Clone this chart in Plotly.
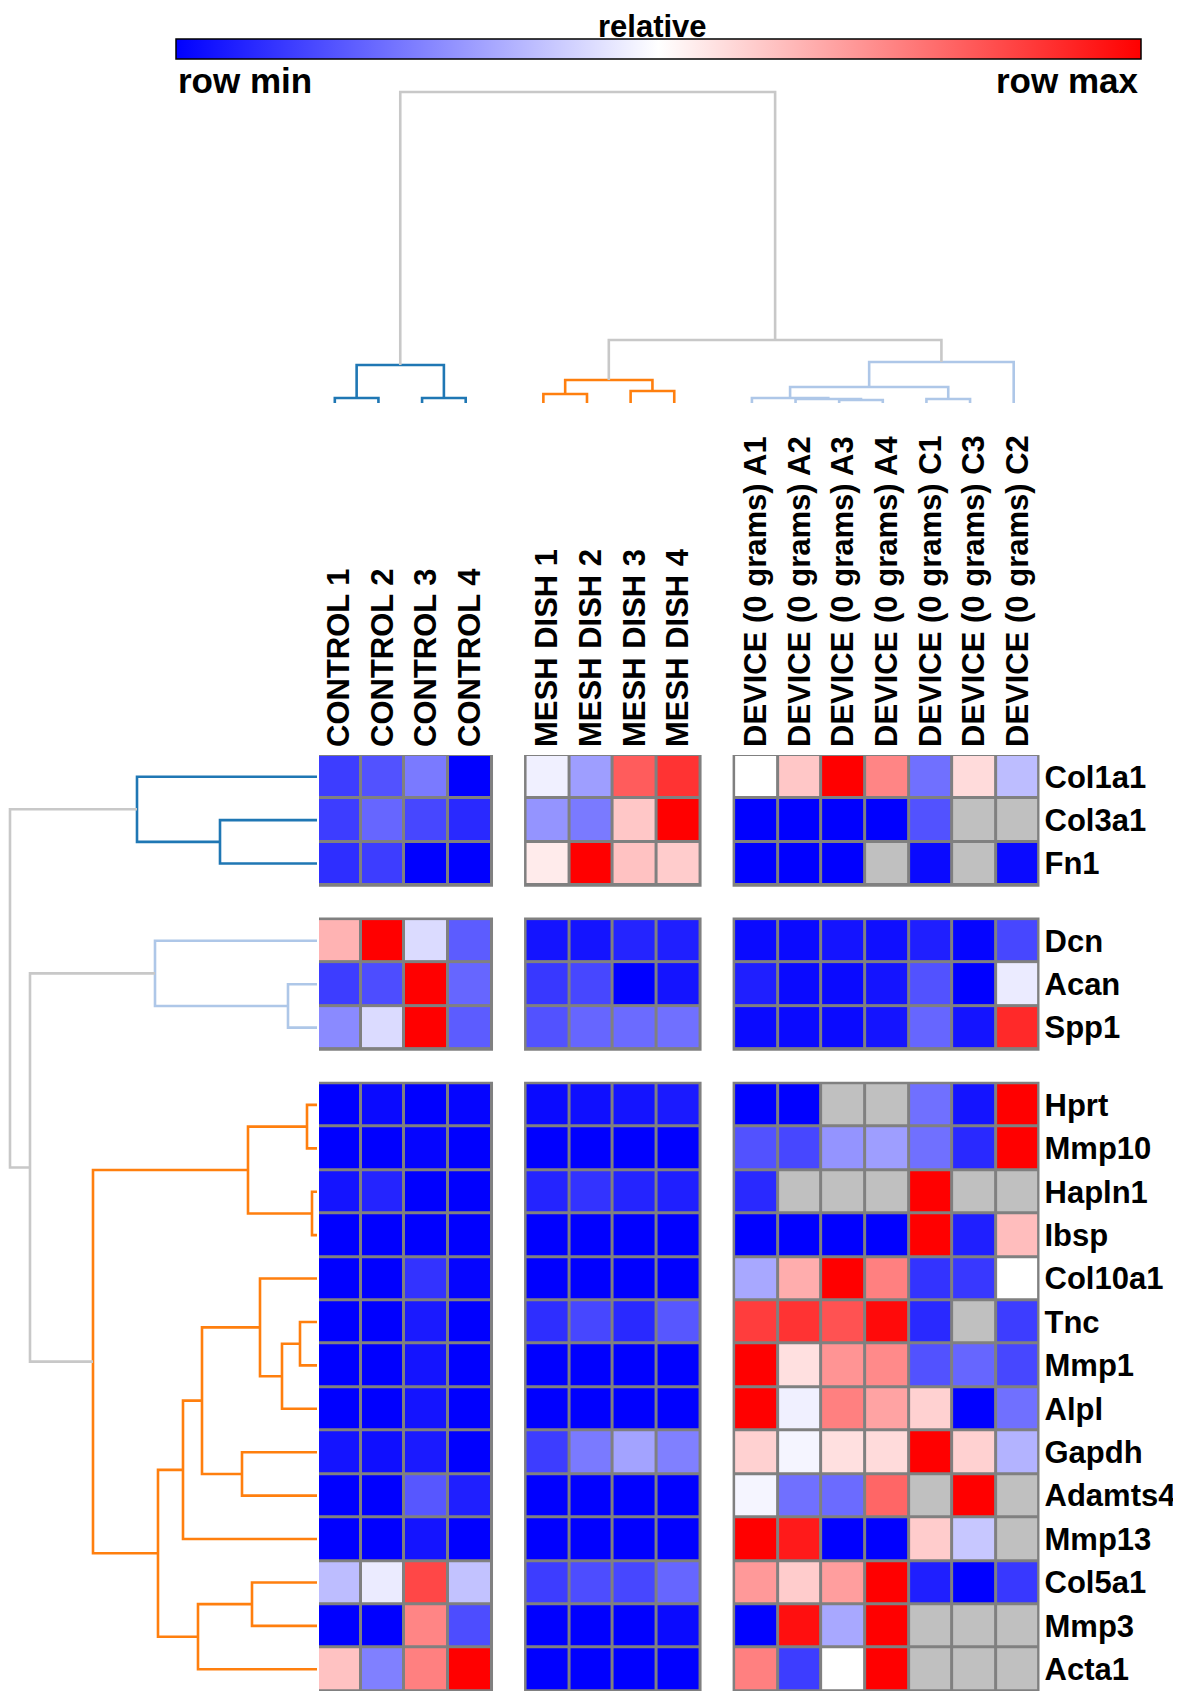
import plotly.graph_objects as go

# ---------------- data ----------------
genes = ["Col1a1", "Col3a1", "Fn1", "Dcn", "Acan", "Spp1", "Hprt", "Mmp10", "Hapln1", "Ibsp",
         "Col10a1", "Tnc", "Mmp1", "Alpl", "Gapdh", "Adamts4", "Mmp13", "Col5a1", "Mmp3", "Acta1"]
row_block_sizes = [3, 3, 14]

control_names = ["CONTROL 1", "CONTROL 2", "CONTROL 3", "CONTROL 4"]
mesh_names = ["MESH DISH 1", "MESH DISH 2", "MESH DISH 3", "MESH DISH 4"]
device_names = ["DEVICE (0 grams) A1", "DEVICE (0 grams) A2", "DEVICE (0 grams) A3",
                "DEVICE (0 grams) A4", "DEVICE (0 grams) C1", "DEVICE (0 grams) C3",
                "DEVICE (0 grams) C2"]

# relative expression: 0 = row min (blue), 0.5 = mid (white), 1 = row max (red); None = missing
control_vals = [
    [0.12, 0.16, 0.24, 0.00],
    [0.12, 0.20, 0.14, 0.08],
    [0.09, 0.12, 0.00, 0.00],
    [0.65, 1.00, 0.43, 0.18],
    [0.12, 0.15, 1.00, 0.20],
    [0.27, 0.43, 1.00, 0.18],
    [0.00, 0.02, 0.00, 0.01],
    [0.00, 0.00, 0.01, 0.00],
    [0.04, 0.07, 0.00, 0.00],
    [0.00, 0.00, 0.00, 0.00],
    [0.00, 0.00, 0.10, 0.01],
    [0.00, 0.00, 0.05, 0.00],
    [0.00, 0.00, 0.04, 0.00],
    [0.00, 0.00, 0.04, 0.00],
    [0.04, 0.03, 0.05, 0.00],
    [0.00, 0.00, 0.17, 0.06],
    [0.00, 0.00, 0.04, 0.00],
    [0.37, 0.46, 0.86, 0.38],
    [0.00, 0.00, 0.74, 0.15],
    [0.62, 0.25, 0.75, 1.00],
]
mesh_vals = [
    [0.47, 0.31, 0.82, 0.90],
    [0.29, 0.24, 0.61, 1.00],
    [0.54, 1.00, 0.62, 0.60],
    [0.04, 0.04, 0.07, 0.06],
    [0.11, 0.14, 0.00, 0.04],
    [0.16, 0.20, 0.21, 0.22],
    [0.02, 0.03, 0.04, 0.05],
    [0.00, 0.00, 0.00, 0.00],
    [0.07, 0.10, 0.07, 0.06],
    [0.00, 0.00, 0.00, 0.00],
    [0.00, 0.00, 0.00, 0.00],
    [0.09, 0.14, 0.08, 0.17],
    [0.00, 0.00, 0.00, 0.00],
    [0.00, 0.00, 0.00, 0.00],
    [0.12, 0.24, 0.32, 0.25],
    [0.00, 0.00, 0.00, 0.00],
    [0.00, 0.00, 0.00, 0.00],
    [0.12, 0.15, 0.14, 0.20],
    [0.00, 0.00, 0.00, 0.02],
    [0.00, 0.00, 0.00, 0.00],
]
device_vals = [
    [0.50, 0.61, 1.00, 0.74, 0.22, 0.57, 0.37],
    [0.00, 0.00, 0.00, 0.00, 0.16, None, None],
    [0.00, 0.00, 0.00, None, 0.02, None, 0.02],
    [0.02, 0.02, 0.04, 0.03, 0.06, 0.01, 0.14],
    [0.06, 0.02, 0.02, 0.04, 0.16, 0.00, 0.46],
    [0.02, 0.02, 0.02, 0.04, 0.20, 0.04, 0.92],
    [0.00, 0.00, None, None, 0.22, 0.04, 1.00],
    [0.16, 0.14, 0.29, 0.31, 0.22, 0.08, 1.00],
    [0.08, None, None, None, 1.00, None, None],
    [0.00, 0.00, 0.00, 0.00, 1.00, 0.06, 0.63],
    [0.33, 0.66, 1.00, 0.75, 0.10, 0.11, 0.50],
    [0.88, 0.90, 0.84, 0.98, 0.08, None, 0.12],
    [1.00, 0.56, 0.71, 0.73, 0.16, 0.20, 0.14],
    [1.00, 0.47, 0.75, 0.68, 0.59, 0.00, 0.22],
    [0.59, 0.48, 0.56, 0.57, 1.00, 0.59, 0.35],
    [0.48, 0.22, 0.21, 0.80, None, 1.00, None],
    [1.00, 0.95, 0.00, 0.00, 0.60, 0.39, None],
    [0.70, 0.60, 0.69, 1.00, 0.06, 0.00, 0.11],
    [0.00, 0.97, 0.33, 1.00, None, None, None],
    [0.75, 0.12, 0.50, 1.00, None, None, None],
]

# dendrograms: (merge height, left, right); leaves are names
row_tree_blue = (180, "Col1a1", (97, "Col3a1", "Fn1"))
row_tree_lightblue = (162, "Dcn", (29, "Acan", "Spp1"))
row_tree_orange = (224,
                   (69, (10, "Hprt", "Mmp10"), (5, "Hapln1", "Ibsp")),
                   (159,
                    (134, (115, (57, "Col10a1", (35, (17, "Tnc", "Mmp1"), "Alpl")),
                           (75, "Gapdh", "Adamts4")), "Mmp13"),
                    (119, (65, "Col5a1", "Mmp3"), "Acta1")))
row_tree_top = (307, "blue", (287, "lightblue", "orange"))

col_tree_blue = (38, (5, "CONTROL 1", "CONTROL 2"), (5, "CONTROL 3", "CONTROL 4"))
col_tree_orange = (23, (9, "MESH DISH 1", "MESH DISH 2"), (12, "MESH DISH 3", "MESH DISH 4"))
col_tree_lightblue = (41,
                      (16,
                       (5, "DEVICE (0 grams) A1",
                        (4, "DEVICE (0 grams) A2", (3, "DEVICE (0 grams) A3", "DEVICE (0 grams) A4"))),
                       (4, "DEVICE (0 grams) C1", "DEVICE (0 grams) C3")),
                      "DEVICE (0 grams) C2")
col_tree_top = (311, "blue", (63, "orange", "lightblue"))

# ---------------- layout constants ----------------
W, H = 1181, 1701          # window size
OFF = 8                    # page body margin
FW, FH = W - OFF, H - OFF  # figure size
GAP = 0.78
HEAT_L, HEAT_R, HEAT_T, HEAT_B = 317, 1039.5, 755, 1691
DEND_T, DEND_B = 92, 403
COL_DEND_SHIFT = -4
FONT = "Liberation Sans, Arial, sans-serif"
LAB_SIZE = 31
CLUSTER_COLORS = {"blue": "#1f77b4", "orange": "#ff7f0e", "lightblue": "#aec7e8"}
GRAY = "#c8c8c8"
CMISS = "#c0c0c0"
GRID = "#808080"


def px(xp):
    return (xp - OFF) / FW


def py(yp):
    return 1 - (yp - OFF) / FH


# positions of columns / rows in cell units
col_groups = [control_names, mesh_names, device_names]
col_group_vals = [control_vals, mesh_vals, device_vals]
col_pos, col_spans = {}, []
off = 0.0
for g in col_groups:
    for j, n in enumerate(g):
        col_pos[n] = off + j + 0.5
    col_spans.append((off, off + len(g)))
    off += len(g) + GAP
x_total = off - GAP

row_pos, row_spans, row_idx = {}, [], []
off = 0.0
i0 = 0
for size in row_block_sizes:
    idx = list(range(i0, i0 + size))
    for k, i in enumerate(idx):
        row_pos[genes[i]] = off + k + 0.5
    row_spans.append((off, off + size))
    row_idx.append(idx)
    off += size + GAP
    i0 += size
y_total = off - GAP

fig = go.Figure()

cscale = [[0, "rgb(0,0,255)"], [0.5, "rgb(255,255,255)"], [1, "rgb(255,0,0)"]]
eps = 1.5 / 43.5
shapes = []
for gi, (names, vals) in enumerate(zip(col_groups, col_group_vals)):
    xs = [col_pos[n] for n in names]
    for bi, idx in enumerate(row_idx):
        ys = [row_pos[genes[i]] for i in idx]
        z = [[(v if v is not None else None) for v in vals[i]] for i in idx]
        zmiss = [[(1 if v is None else None) for v in vals[i]] for i in idx]
        x0, x1 = col_spans[gi]
        y0, y1 = row_spans[bi]
        shapes.append(dict(type="rect", xref="x", yref="y", x0=x0 - eps, x1=x1 + eps,
                           y0=y0 - eps, y1=y1 + eps, fillcolor=GRID, line=dict(width=0),
                           layer="below"))
        fig.add_trace(go.Heatmap(x=xs, y=ys, z=z, coloraxis="coloraxis", xgap=3, ygap=3,
                                 hoverongaps=False, xaxis="x", yaxis="y"))
        if any(v is not None for r in zmiss for v in r):
            fig.add_trace(go.Heatmap(x=xs, y=ys, z=zmiss, colorscale=[[0, CMISS], [1, CMISS]],
                                     showscale=False, xgap=3, ygap=3, zmin=0, zmax=1,
                                     hoverongaps=False, xaxis="x", yaxis="y"))


# ---------------- dendrograms ----------------
def build(node, lookup, segs):
    if isinstance(node, str):
        return lookup[node]
    h, a, b = node
    pa, ha = build(a, lookup, segs)
    pb, hb = build(b, lookup, segs)
    segs.append([(pa, ha), (pa, h), (pb, h), (pb, hb)])
    return (pa + pb) / 2, h


def add_dendro(clusters, top, pos, horizontal, xa, ya):
    leaf_lookup = {n: (p, 0.0) for n, p in pos.items()}
    roots = {}
    all_segs = []
    for cname, tree in clusters.items():
        segs = []
        roots[cname] = build(tree, leaf_lookup, segs)
        all_segs.append((CLUSTER_COLORS[cname], segs))
    segs = []
    build(top, roots, segs)
    all_segs.append((GRAY, segs))
    for color, sg in all_segs:
        xs, ys = [], []
        for s in sg:
            for p, h in s:
                if horizontal:
                    xs.append(h)
                    ys.append(p)
                else:
                    xs.append(p)
                    ys.append(h)
            xs.append(None)
            ys.append(None)
        fig.add_trace(go.Scatter(x=xs, y=ys, mode="lines", line=dict(color=color, width=2.6),
                                 hoverinfo="skip", showlegend=False, xaxis=xa, yaxis=ya))


add_dendro({"blue": row_tree_blue, "lightblue": row_tree_lightblue, "orange": row_tree_orange},
           row_tree_top, row_pos, True, "x2", "y")
add_dendro({"blue": col_tree_blue, "orange": col_tree_orange, "lightblue": col_tree_lightblue},
           col_tree_top, col_pos, False, "x3", "y2")

tickfont = dict(family=FONT, size=LAB_SIZE, color="black", weight="bold")
hidden = dict(showgrid=False, zeroline=False, showline=False, ticks="", showticklabels=False)

fig.update_layout(
    width=FW, height=FH, margin=dict(l=0, r=0, t=0, b=0, autoexpand=False),
    paper_bgcolor="white", plot_bgcolor="white", showlegend=False,
    xaxis=dict(domain=[px(HEAT_L), px(HEAT_R)], range=[0, x_total], side="top",
               tickmode="array", tickvals=[col_pos[n] for g in col_groups for n in g],
               ticktext=[n for g in col_groups for n in g], tickangle=-90, ticks="",
               showgrid=False, zeroline=False, showline=False, tickfont=tickfont,
               ticklabelstandoff=7, anchor="y", automargin=False),
    yaxis=dict(domain=[py(HEAT_B), py(HEAT_T)], range=[y_total, 0], side="right",
               tickmode="array", tickvals=[row_pos[g] for g in genes], ticktext=genes,
               ticks="", showgrid=False, zeroline=False, showline=False, tickfont=tickfont,
               ticklabelstandoff=4, anchor="x", automargin=False),
    xaxis2=dict(domain=[0, px(HEAT_L + 2)], range=[HEAT_L - OFF, -2], anchor="y", **hidden),
    xaxis3=dict(domain=[px(HEAT_L + COL_DEND_SHIFT), px(HEAT_R + COL_DEND_SHIFT)],
                range=[0, x_total], anchor="y2", **hidden),
    yaxis2=dict(domain=[py(DEND_B + 3), py(DEND_T - 3)],
                range=[-3, (DEND_B - DEND_T) + 3], anchor="x3", **hidden),
    coloraxis=dict(colorscale=cscale, cmin=0, cmax=1,
                   colorbar=dict(orientation="h", x=px(658.5), xanchor="center",
                                 y=py(39), yanchor="top", len=965, lenmode="pixels",
                                 thickness=20, thicknessmode="pixels", outlinewidth=1.5,
                                 outlinecolor="black", showticklabels=False, ticks="",
                                 xpad=0, ypad=0)),
    shapes=shapes,
    annotations=[
        dict(text="relative", x=px(652), y=1, xref="paper", yref="paper",
             showarrow=False, xanchor="center", yanchor="top", borderpad=0,
             font=dict(family=FONT, size=31, color="black", weight="bold")),
        dict(text="row min", x=px(176), y=py(81), xref="paper", yref="paper",
             showarrow=False, xanchor="left", yanchor="middle",
             font=dict(family=FONT, size=35, color="black", weight="bold")),
        dict(text="row max", x=px(1141), y=py(81), xref="paper", yref="paper",
             showarrow=False, xanchor="right", yanchor="middle",
             font=dict(family=FONT, size=35, color="black", weight="bold")),
    ],
)

fig.write_html("out.html")
